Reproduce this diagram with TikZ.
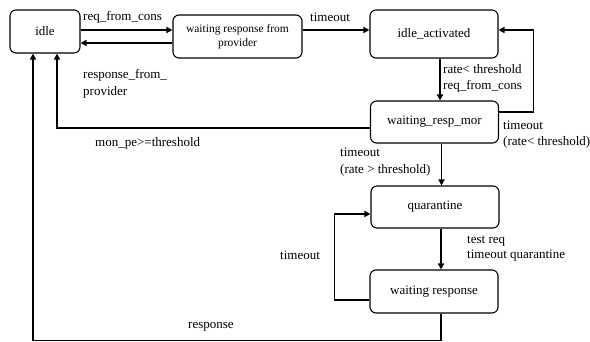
\documentclass[tikz,border=0pt]{standalone}
\usepackage{fontspec}
\setmainfont{Liberation Serif}
\usetikzlibrary{arrows.meta}

\begin{document}
\begin{tikzpicture}[x=1pt,y=-1pt,
  state/.style={draw,rounded corners=6pt,line width=1.1pt,minimum width=128pt,minimum height=43pt,inner sep=2pt,align=center,font=\fontsize{13}{15}\selectfont},
  arr/.style={line width=1.4pt,-{Triangle[length=6pt,width=6pt]}},
  lbl/.style={anchor=west,align=left,inner sep=0pt,font=\fontsize{13}{16.5}\selectfont}]
\useasboundingbox (0,0) rectangle (590,342);
\node[state,minimum width=70pt] (idle) at (45,31.5) {idle};
\node[state,minimum width=129pt,font=\fontsize{11.5}{14}\selectfont] (wrp) at (237.5,36.5) {waiting response from\\provider};
\node[state,minimum height=48pt] (ia) at (434,34) {idle\_activated};
\node[state,minimum height=42pt] (wrm) at (434.5,122) {waiting\_resp\_mor};
\node[state,minimum height=42pt] (quar) at (435,207) {quarantine};
\node[state] (wr) at (434,291.5) {waiting response};

\draw[arr] ([yshift=1.5pt]idle.east) -- ([yshift=1.5pt]idle.east -| wrp.west);
\draw[arr] ([yshift=-11.5pt]idle.east -| wrp.west) -- ([yshift=-11.5pt]idle.east);
\draw[arr] ([yshift=6.5pt]wrp.east) -- ([yshift=6.5pt]wrp.east -| ia.west);
\draw[arr] ([xshift=6pt]ia.south) -- ([xshift=6pt]ia.south |- wrm.north);
\draw[arr] ([yshift=10pt]wrm.east) -| ([xshift=35pt,yshift=4pt]ia.east) -- ([yshift=4pt]ia.east);
\draw[arr] ([yshift=-6pt]wrm.west) -| ([xshift=12pt]idle.south);
\draw[arr] ([xshift=7pt]wrm.south) -- ([xshift=7pt]wrm.south |- quar.north);
\draw[arr] ([xshift=6pt]quar.south) -- ([xshift=6pt]quar.south |- wr.north);
\draw[arr] ([yshift=-8.5pt]wr.west) -- ++(-35pt,0) |- ([yshift=-7pt]quar.west);
\draw[arr] ([xshift=7pt]wr.south) -- ++(0,-27pt) -| ([xshift=-12pt]idle.south);

\node[lbl] (l1) at (83,17) {req\_from\_cons};
\node[lbl] (l2) at (310,17) {timeout};
\node[lbl] (l3) at (83,84) {response\_from\_\\provider};
\node[lbl] (l4) at (443,78.5) {rate< threshold\\req\_from\_cons};
\node[lbl] (l5) at (503,134.5) {timeout\\(rate< threshold)};
\node[lbl] (l6) at (95,143) {mon\_pe>=threshold};
\node[lbl] (l7) at (340,162) {timeout\\(rate > threshold)};
\node[lbl] (l8) at (280,255) {timeout};
\node[lbl,font=\fontsize{13}{14.5}\selectfont] (l9) at (467,248.5) {test req\\timeout quarantine};
\node[lbl] (l10) at (188,327) {response};
\end{tikzpicture}
\end{document}
